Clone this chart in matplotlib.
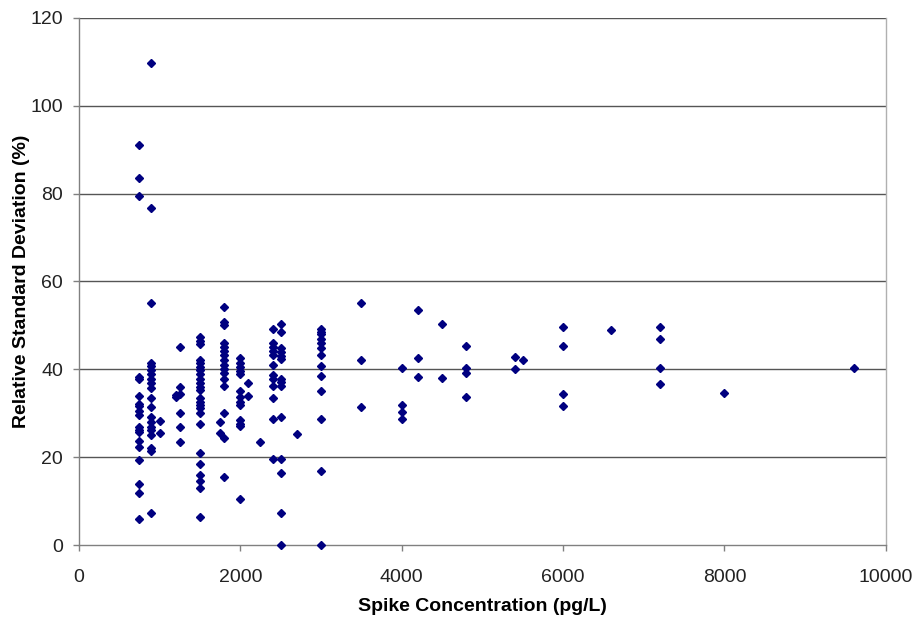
import matplotlib
matplotlib.use("Agg")
import matplotlib.pyplot as plt

plt.rcParams['font.family'] = ['Liberation Sans', 'DejaVu Sans']

# Spike concentration (pg/L) columns and their RSD (%) values
conc_750 = [91.0, 83.5, 79.5, 38.3, 37.7, 33.9, 32.2, 31.6, 30.5, 29.5, 26.9, 26.3, 25.7, 23.6, 22.4, 19.3, 13.9, 11.8, 5.9]
conc_900 = [109.7, 76.7, 55.0, 41.5, 40.7, 39.8, 38.9, 37.9, 37.0, 35.7, 33.4, 31.5, 29.2, 28.1, 26.9, 26.3, 25.0, 22.0, 21.4, 7.4]
conc_1000 = [28.3, 25.4]
conc_1200 = [34.1, 33.6]
conc_1250 = [45.1, 35.9, 34.5, 30.1, 26.8, 23.4]
conc_1500 = [47.3, 46.5, 45.8, 42.1, 41.4, 40.6, 39.8, 38.9, 37.9, 37.0, 36.0, 35.3, 33.4, 32.6, 31.9, 31.1, 30.1, 27.5, 20.9, 18.4, 15.9, 14.6, 13.1, 6.3]
conc_1750 = [28.1, 25.4]
conc_1800 = [54.1, 50.8, 50.1, 45.9, 45.1, 44.2, 43.2, 42.1, 41.0, 40.0, 39.1, 37.9, 36.2, 30.0, 24.3, 15.6]
conc_2000 = [42.5, 41.5, 40.6, 39.7, 38.9, 35.1, 33.8, 32.6, 31.9, 28.5, 27.5, 27.1, 10.5]
conc_2100 = [36.8, 33.9]
conc_2250 = [23.4]
conc_2400 = [49.1, 46.1, 45.1, 44.2, 43.2, 41.0, 38.7, 37.9, 36.2, 33.4, 28.6, 19.5]
conc_2500 = [50.3, 48.6, 44.8, 44.0, 43.0, 42.3, 37.9, 37.2, 36.2, 29.1, 19.5, 16.5, 7.4, 0.0]
conc_2700 = [25.3]
conc_3000 = [49.1, 48.6, 48.0, 47.0, 45.9, 44.8, 43.2, 40.7, 38.5, 35.1, 28.8, 16.8, 0.0]
conc_3500 = [55.2, 42.2, 31.5]
conc_4000 = [40.2, 32.0, 30.3, 28.7]
conc_4200 = [53.6, 42.5, 38.3]
conc_4500 = [50.3, 38.1]
conc_4800 = [45.4, 40.4, 39.2, 33.6]
conc_5400 = [42.7, 40.0]
conc_5500 = [42.1]
conc_6000 = [49.7, 45.4, 34.3, 31.6]
conc_6600 = [48.9]
conc_7200 = [49.7, 47.0, 40.4, 36.6]
conc_8000 = [34.7]
conc_9600 = [40.4]

groups = {
    750: conc_750, 900: conc_900, 1000: conc_1000, 1200: conc_1200, 1250: conc_1250,
    1500: conc_1500, 1750: conc_1750, 1800: conc_1800, 2000: conc_2000, 2100: conc_2100,
    2250: conc_2250, 2400: conc_2400, 2500: conc_2500, 2700: conc_2700, 3000: conc_3000,
    3500: conc_3500, 4000: conc_4000, 4200: conc_4200, 4500: conc_4500, 4800: conc_4800,
    5400: conc_5400, 5500: conc_5500, 6000: conc_6000, 6600: conc_6600, 7200: conc_7200,
    8000: conc_8000, 9600: conc_9600,
}

xs, ys = [], []
for c, vals in groups.items():
    for v in vals:
        xs.append(c)
        ys.append(v)

x_ticks = [0, 2000, 4000, 6000, 8000, 10000]
y_ticks = [0, 20, 40, 60, 80, 100, 120]

fig = plt.figure(figsize=(9.17, 6.18), dpi=100)
ax = fig.add_axes([0.086, 0.118, 0.880, 0.853])

for y in y_ticks[1:]:
    ax.axhline(y, color='#555555', linewidth=1.0, zorder=1)

ax.plot(xs, ys, linestyle='none', marker='D', markersize=4.2,
        color='#000080', markeredgecolor='#000080', zorder=3, clip_on=False)

ax.set_xlim(0, 10000)
ax.set_ylim(0, 120)
ax.set_xticks(x_ticks)
ax.set_yticks(y_ticks)
ax.tick_params(axis='both', direction='out', length=4.5, width=1, colors='#808080',
               labelcolor='#222222', labelsize=14)
ax.tick_params(axis='x', pad=12.5)
ax.tick_params(axis='y', pad=7)
for side in ['left', 'bottom', 'right']:
    ax.spines[side].set_color('#808080')
    ax.spines[side].set_linewidth(1.0)
ax.spines['top'].set_visible(False)
ax.spines['right'].set_color('#b0b0b0')

ax.set_xlabel('Spike Concentration (pg/L)', fontsize=14, fontweight='bold', labelpad=9)
ax.set_ylabel('Relative Standard Deviation (%)', fontsize=14, fontweight='bold', labelpad=0)

fig.savefig('out.png', dpi=100)
